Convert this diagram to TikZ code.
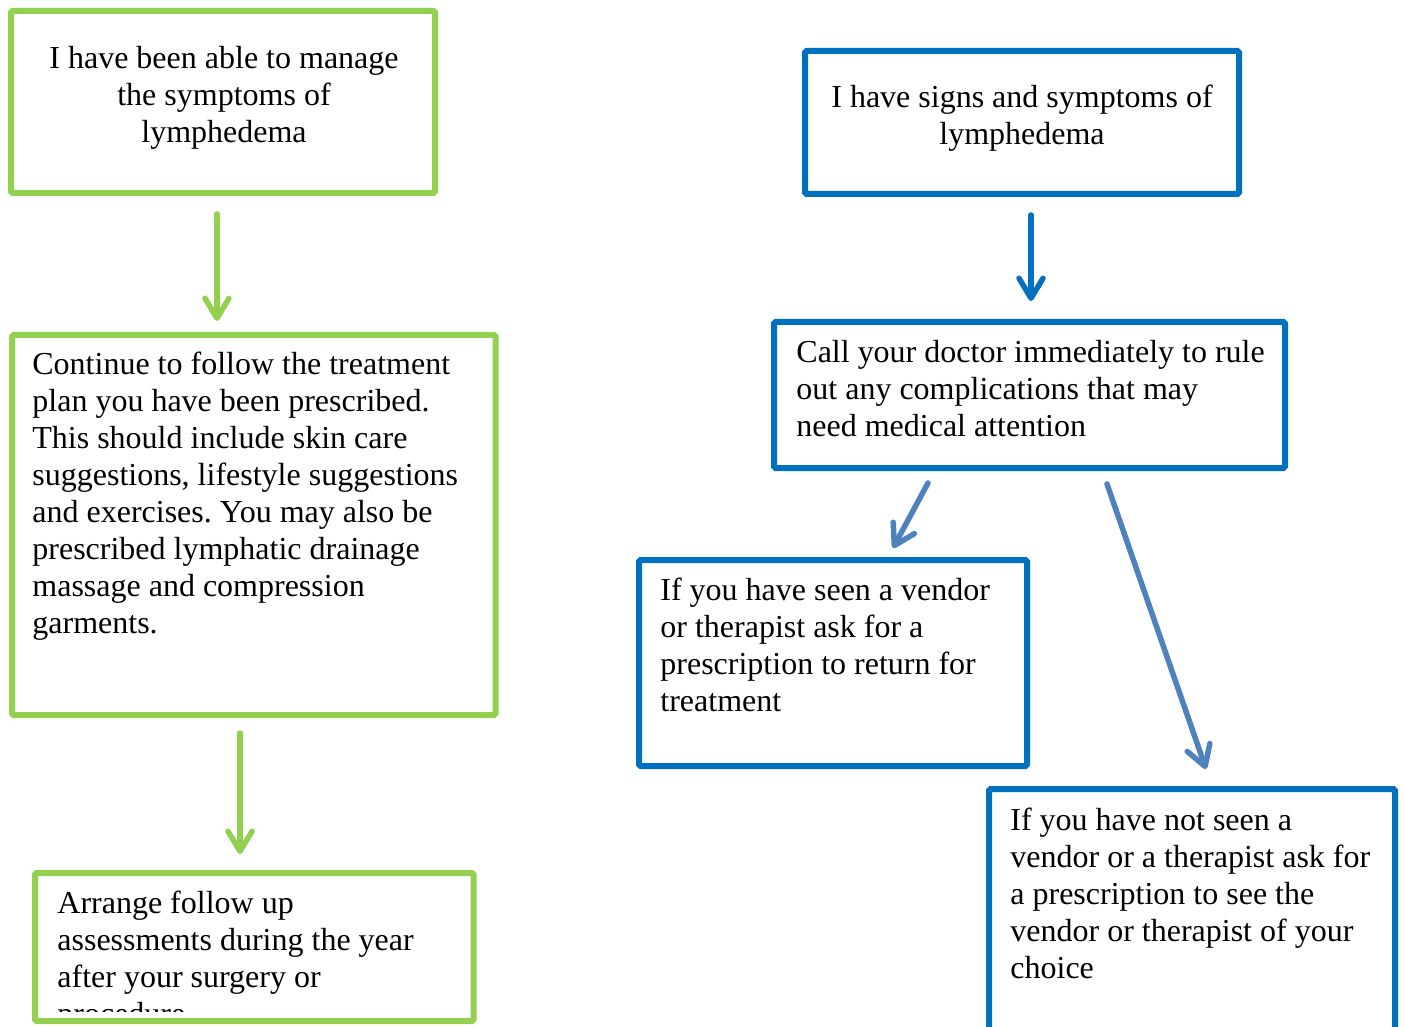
\documentclass[tikz,border=0pt]{standalone}
\usepackage{fontspec}
\setmainfont{Liberation Serif}
\usetikzlibrary{arrows.meta,fit}
\definecolor{cGreen}{RGB}{146,208,80}
\definecolor{cBlue}{RGB}{0,112,192}
\definecolor{cArrow}{RGB}{79,129,189}
\frenchspacing
\begin{document}
\begin{tikzpicture}[x=0.5pt,y=-0.5pt,
  gbox/.style={draw=cGreen, line width=3pt, inner sep=0pt, rounded corners=0.8pt},
  bluebox/.style={draw=cBlue, line width=3pt, inner sep=0pt, rounded corners=0.8pt},
  txt/.style={inner sep=0pt, anchor=north west, align=left, font=\fontsize{16pt}{18.5pt}\selectfont},
  ctxt/.style={inner sep=0pt, anchor=north, align=center, font=\fontsize{16pt}{18.5pt}\selectfont},
  tip/.style={-{Straight Barb[length=10pt,width=12pt,line cap=round,round]}},
  garrow/.style={draw=cGreen, line width=2.75pt, line cap=round, tip},
  barrow/.style={draw=cBlue, line width=2.75pt, line cap=round, tip},
  larrow/.style={draw=cArrow, line width=2.75pt, line cap=round, tip}
]
\useasboundingbox (0,0) rectangle (1404,1027);
\clip (0,0) rectangle (1404,1027);
\fill[white] (0,0) rectangle (1404,1027);

% green column
\node[gbox, fit={(11,11) (435,193)}] (g1) {};
\node[ctxt] (g1t) at (224,46) {I have been able to manage\\the symptoms of\\lymphedema};

\node[gbox, fit={(12,335) (495.5,715)}] (g2) {};
\node[txt] (g2t) at (32,352) {Continue to follow the treatment\\plan you have been prescribed.\\This should include skin care\\suggestions, lifestyle suggestions\\and exercises. You may also be\\prescribed lymphatic drainage\\massage and compression\\garments.};

\node[gbox, fit={(35,873) (473.5,1021)}] (g3) {};
\begin{scope}
  \clip (40,880) rectangle (470,1011);
  \node[txt] (g3t) at (57,891) {Arrange follow up\\assessments during the year\\after your surgery or\\procedure};
\end{scope}

% blue column
\node[bluebox, fit={(805,51) (1239,194)}] (b1) {};
\node[ctxt] (b1t) at (1022,85) {I have signs and symptoms of\\lymphedema};

\node[bluebox, fit={(774,322) (1285,468)}] (b2) {};
\node[txt] (b2t) at (796,340) {Call your doctor immediately to rule\\out any complications that may\\need medical attention};

\node[bluebox, fit={(639,560) (1027,766)}] (b3) {};
\node[txt] (b3t) at (660,578) {If you have seen a vendor\\or therapist ask for a\\prescription to return for\\treatment};

\node[bluebox, fit={(989,789) (1395,1060)}] (b4) {};
\node[txt] (b4t) at (1010,808) {If you have not seen a\\vendor or a therapist ask for\\a prescription to see the\\vendor or therapist of your\\choice};

% arrow end points
\coordinate (ga1s) at (217,214);
\coordinate (ga1e) at (217,321);
\coordinate (ga2s) at (240,733);
\coordinate (ga2e) at (240,854);
\coordinate (ba1s) at (1031,215);
\coordinate (ba1e) at (1031,301);
\coordinate (ba2s) at (928,483);
\coordinate (ba2e) at (893,548);
\coordinate (ba3s) at (1107,484);
\coordinate (ba3e) at (1206,769);

\draw[garrow] (ga1s) -- (ga1e);
\draw[garrow] (ga2s) -- (ga2e);
\draw[barrow] (ba1s) -- (ba1e);
\draw[larrow] (ba2s) -- (ba2e);
\draw[larrow] (ba3s) -- (ba3e);
\end{tikzpicture}
\end{document}
